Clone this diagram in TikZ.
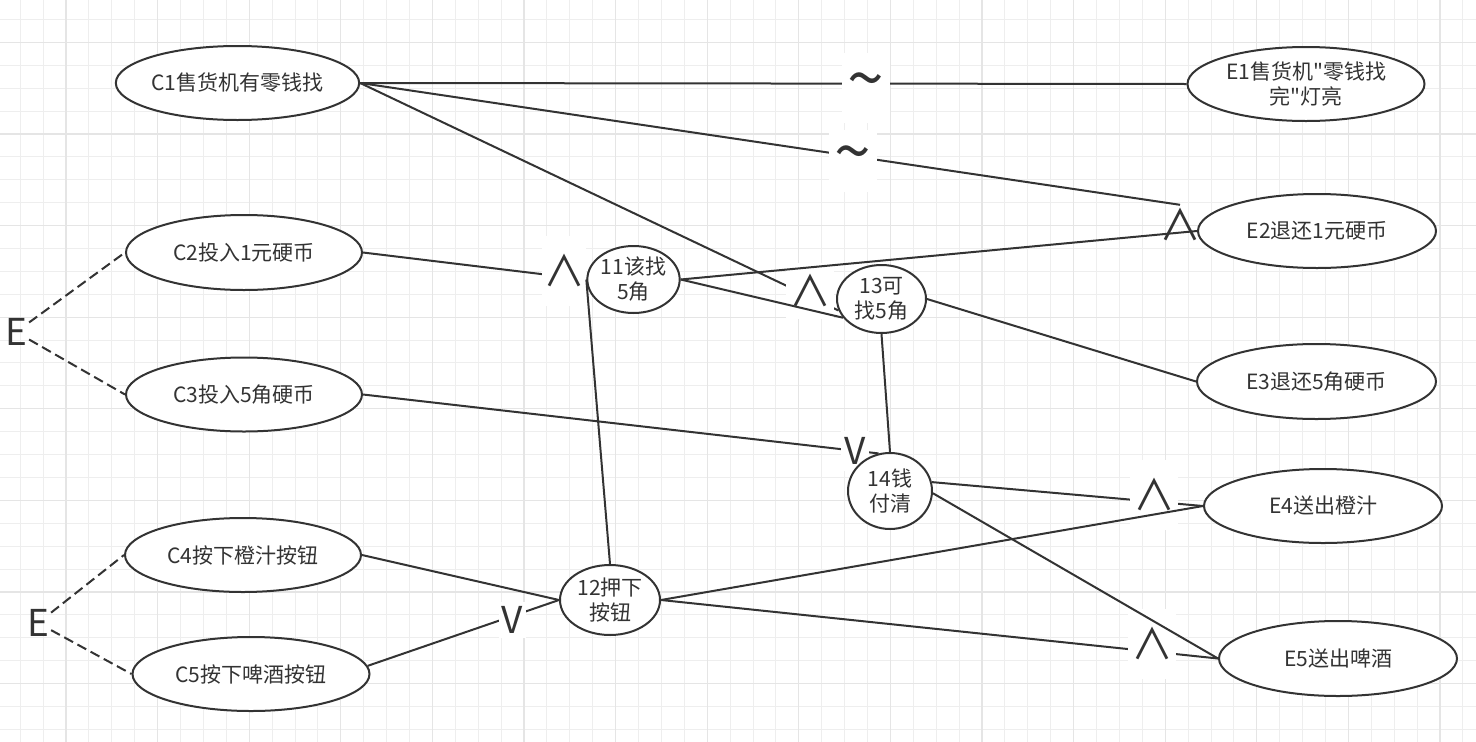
\documentclass[tikz,border=0pt]{standalone}
\usepackage{fontspec}
\newfontfamily\cjk{Noto Sans CJK SC}[Ligatures=ResetAll]
\usetikzlibrary{shapes.geometric}
\definecolor{ink}{RGB}{51,51,51}
\definecolor{gminor}{RGB}{238,238,238}
\definecolor{gmajor}{RGB}{229,229,229}
\pgfdeclarelayer{grid}
\pgfdeclarelayer{edgesA}
\pgfdeclarelayer{labels}
\pgfdeclarelayer{edgesB}
\pgfsetlayers{grid,edgesA,labels,edgesB,main}
\tikzset{
  ell/.style={ellipse, draw=ink, line width=2pt, fill=white, inner sep=0pt, text=ink, align=center, font=\cjk\fontsize{21}{25}\selectfont},
  conn/.style={draw=ink, line width=2pt},
  dashconn/.style={conn, dash pattern=on 10pt off 5pt},
  lblbox/.style={fill=white, inner sep=0pt, text=ink},
  andsym/.style={font=\cjk\fontsize{42}{42}\selectfont},
  orsym/.style={font=\cjk\fontsize{37}{37}\selectfont},
  tilsym/.style={font=\cjk\fontsize{66}{66}\selectfont},
}
\begin{document}
\begin{tikzpicture}[x=1pt,y=-1pt]
\useasboundingbox (0,0) rectangle (1476,742);
\begin{pgfonlayer}{grid}
\fill[white] (0,0) rectangle (1476,742);
\foreach \k in {0,...,63} {\draw[gminor, line width=1pt] ({20.2+22.9*\k},0) -- ({20.2+22.9*\k},742);}
\foreach \k in {0,...,32} {\draw[gminor, line width=1pt] (0,{19.4+22.9*\k}) -- (1476,{19.4+22.9*\k});}
\foreach \k in {0,...,15} {\draw[gmajor, line width=1.2pt] ({66+91.6*\k},0) -- ({66+91.6*\k},742);}
\foreach \k in {0,...,7} {\draw[gmajor, line width=1.2pt] (0,{42.3+91.6*\k}) -- (1476,{42.3+91.6*\k});}
\end{pgfonlayer}

% cause / effect ellipses
\node[ell, minimum width=237, minimum height=74] (C1) at (237.5,83) {C1售货机有零钱找};
\node[ell, minimum width=236, minimum height=75] (C2) at (244,252.5) {C2投入1元硬币};
\node[ell, minimum width=236, minimum height=74] (C3) at (244,394.5) {C3投入5角硬币};
\node[ell, minimum width=236, minimum height=74] (C4) at (243,555) {C4按下橙汁按钮};
\node[ell, minimum width=237, minimum height=74] (C5) at (251,674) {C5按下啤酒按钮};
\node[ell, minimum width=237, minimum height=74] (E1) at (1306,84) {E1售货机"零钱找\\完"灯亮};
\node[ell, minimum width=238, minimum height=74] (E2) at (1317,231) {E2退还1元硬币};
\node[ell, minimum width=239, minimum height=75] (E3) at (1316.5,381.5) {E3退还5角硬币};
\node[ell, minimum width=238, minimum height=74] (E4) at (1323,506) {E4送出橙汁};
\node[ell, minimum width=238, minimum height=75] (E5) at (1338,658.5) {E5送出啤酒};
% intermediate nodes
\node[ell, minimum width=91, minimum height=67] (N11) at (633.5,279.5) {11该找\\5角};
\node[ell, minimum width=89, minimum height=68] (N13) at (881.5,299) {13可\\找5角};
\node[ell, minimum width=84, minimum height=76] (N14) at (890,491) {14钱\\付清};
\node[ell, minimum width=100, minimum height=70] (N12) at (610,600) {12押下\\按钮};
% free symbols
\node[andsym, text=ink, inner sep=0pt, minimum height=40] (aE2) at (1180,225) {∧};
\node[orsym, text=ink, inner sep=2pt] (Etop) at (16,332) {E};
\node[orsym, text=ink, inner sep=2pt] (Ebot) at (38,623) {E};

\begin{pgfonlayer}{edgesA}
\draw[conn] (C1.east) -- (E1.west);
\draw[conn] (C1.east) -- (aE2.north);
\draw[conn] (C1.east) -- (N13.195);
\draw[conn] (C2.east) -- (N11.west);
\draw[conn] (C3.east) -- (N14.107);
\draw[conn] (N14.12) -- (E4.west);
\draw[conn] (N12.east) -- (E5.west);
\draw[conn] (C5.4) -- (N12.west);
\end{pgfonlayer}

\begin{pgfonlayer}{labels}
\node[lblbox, tilsym, minimum width=48, minimum height=70] (t1) at (866,88) {\textasciitilde};
\node[lblbox, tilsym, minimum width=48, minimum height=62] (t2) at (853,161) {\textasciitilde};
\node[lblbox, andsym, minimum width=44, minimum height=70] (a11) at (564,271) {∧};
\node[lblbox, andsym, minimum width=48, minimum height=56] (a13) at (810,291) {∧};
\node[lblbox, orsym, minimum width=28, minimum height=40] (v14) at (855,451) {V};
\node[lblbox, andsym, minimum width=48, minimum height=70] (a4) at (1154,495) {∧};
\node[lblbox, andsym, minimum width=48, minimum height=70] (a5) at (1152,644) {∧};
\node[lblbox, orsym, minimum width=27, minimum height=36] (v12) at (512,620) {V};
\end{pgfonlayer}

\begin{pgfonlayer}{edgesB}
\draw[conn] (N11.east) -- (E2.west);
\draw[conn] (N11.east) -- (N13.206);
\draw[conn] (N13.east) -- (E3.west);
\draw[conn] (N13.south) -- (N14.north);
\draw[conn] (N12.north) -- (N11.west);
\draw[conn] (N12.east) -- (E4.west);
\draw[conn] (N14.-3) -- (E5.west);
\draw[conn] (C4.east) -- (N12.west);
\draw[dashconn] (Etop) -- (C2.west);
\draw[dashconn] (Etop) -- (C3.west);
\draw[dashconn] (Ebot) -- (C4.west);
\draw[dashconn] (Ebot) -- (C5.west);
\end{pgfonlayer}
\end{tikzpicture}
\end{document}
